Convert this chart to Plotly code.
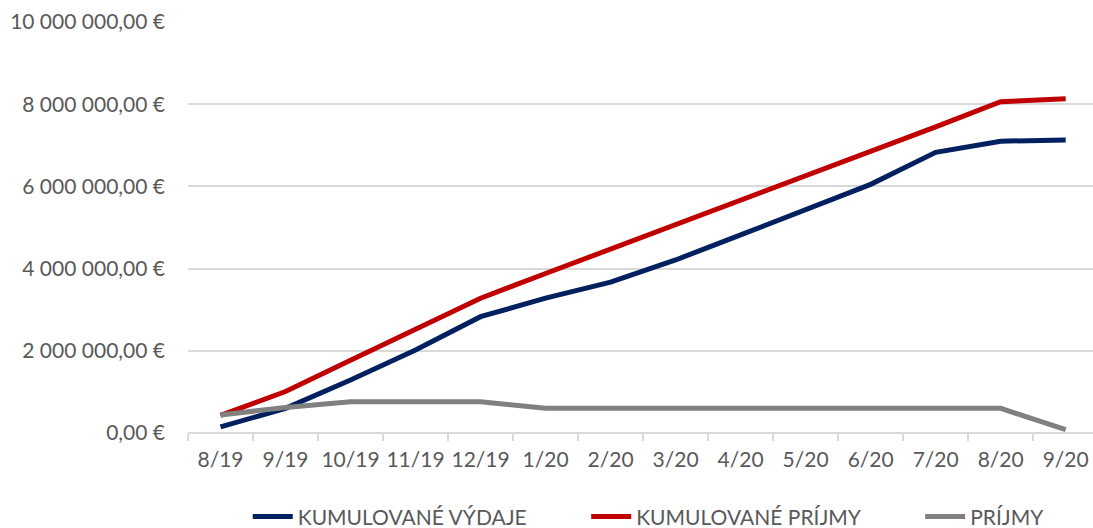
import plotly.graph_objects as go

# Months on the category axis
months = ["8/19", "9/19", "10/19", "11/19", "12/19", "1/20", "2/20",
          "3/20", "4/20", "5/20", "6/20", "7/20", "8/20", "9/20"]

# Series values in EUR
kum_vydaje = [150000, 600000, 1290000, 2020000, 2830000, 3280000, 3670000,
              4210000, 4820000, 5430000, 6050000, 6830000, 7100000, 7130000]
kum_prijmy = [430000, 1010000, 1770000, 2520000, 3280000, 3880000, 4470000,
              5070000, 5660000, 6260000, 6850000, 7450000, 8060000, 8130000]
prijmy = [440000, 620000, 760000, 760000, 760000, 600000, 600000,
          600000, 600000, 600000, 600000, 600000, 600000, 80000]

# Value axis ticks
y_tickvals = [0, 2000000, 4000000, 6000000, 8000000, 10000000]
y_ticktext = ["0,00 €", "2 000 000,00 €", "4 000 000,00 €",
              "6 000 000,00 €", "8 000 000,00 €", "10 000 000,00 €"]

FONT = "Lato"
TEXT_COLOR = "#595959"
GRID_COLOR = "#D9D9D9"
FS = 21

fig = go.Figure()
series = [
    ("KUMULOVANÉ VÝDAJE", kum_vydaje, "#002060", "legend", 0.066),
    ("KUMULOVANÉ PRÍJMY", kum_prijmy, "#C00000", "legend2", 0.440),
    ("PRÍJMY", prijmy, "#808080", "legend3", 0.809),
]
legend_layouts = {}
for name, values, color, legend_id, lx in series:
    fig.add_trace(go.Scatter(
        x=months, y=values, name=name, mode="lines",
        line=dict(color=color, width=5), legend=legend_id,
    ))
    # one single-entry legend per series, laid out in a row below the axis
    legend_layouts[legend_id] = dict(
        orientation="h", x=lx, xanchor="left", y=-0.204, yanchor="middle",
        font=dict(family=FONT, size=FS, color=TEXT_COLOR),
        itemwidth=40, bgcolor="rgba(0,0,0,0)",
    )

fig.update_layout(
    width=1093, height=528,
    margin=dict(l=188, r=0, t=22, b=95, autoexpand=False),
    paper_bgcolor="white", plot_bgcolor="white",
    font=dict(family=FONT, size=FS, color=TEXT_COLOR),
    showlegend=True,
    **legend_layouts,
    xaxis=dict(
        type="category", range=[-0.5, 13.42], tickangle=0,
        tickson="boundaries", ticks="outside", ticklen=7, tickwidth=1.5,
        tickcolor=GRID_COLOR, showgrid=False,
        showline=False, zeroline=False, ticklabelstandoff=12,
        tickfont=dict(family=FONT, size=FS, color=TEXT_COLOR),
    ),
    yaxis=dict(
        range=[0, 10000000], tickvals=y_tickvals, ticktext=y_ticktext,
        showgrid=True, gridcolor=GRID_COLOR, gridwidth=1.5,
        zeroline=True, zerolinecolor=GRID_COLOR, zerolinewidth=1.5,
        showline=False, ticks="", ticklabelstandoff=22,
        tickfont=dict(family=FONT, size=FS, color=TEXT_COLOR),
    ),
)

fig.write_html("out.html")
